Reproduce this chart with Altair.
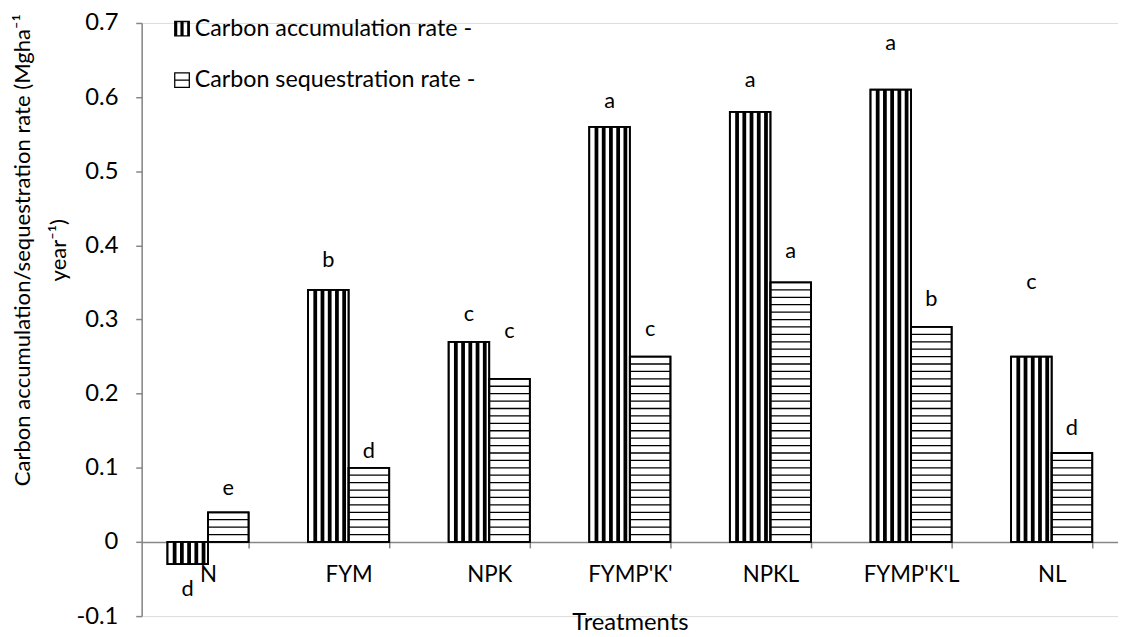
import altair as alt
import pandas as pd
import numpy as np

# ---------------- data ----------------
categories = ["N", "FYM", "NPK", "FYMP'K'", "NPKL", "FYMP'K'L", "NL"]
series_names = ["Carbon accumulation rate -", "Carbon sequestration rate -"]
accumulation = [-0.03, 0.34, 0.27, 0.56, 0.58, 0.61, 0.25]
sequestration = [0.04, 0.10, 0.22, 0.25, 0.35, 0.29, 0.12]
acc_letters = ["d", "b", "c", "a", "a", "a", "c"]
seq_letters = ["e", "d", "c", "c", "a", "b", "d"]
acc_letter_y = [-0.064, 0.380, 0.307, 0.594, 0.623, 0.673, 0.351]
seq_letter_y = [0.073, 0.122, 0.284, 0.287, 0.393, 0.327, 0.154]
y_ticks = [-0.1, 0.0, 0.1, 0.2, 0.3, 0.4, 0.5, 0.6, 0.7]

# ---------------- tables ----------------
rows = []
for i, c in enumerate(categories):
    rows.append({"cat": c, "series": series_names[0], "value": accumulation[i],
                 "letter": acc_letters[i], "ly": acc_letter_y[i]})
    rows.append({"cat": c, "series": series_names[1], "value": sequestration[i],
                 "letter": seq_letters[i], "ly": seq_letter_y[i]})
df = pd.DataFrame(rows)
df_acc = df[df.series == series_names[0]]

# horizontal hatch lines (every 0.01 inside the sequestration bars)
hatch = []
for c, v in zip(categories, sequestration):
    k = 1
    while k * 0.01 < v - 1e-6:
        hatch.append({"cat": c, "lvl": round(k * 0.01, 4)})
        k += 1
df_h = pd.DataFrame(hatch)

# ---------------- layout ----------------
W, H = 986, 599
FONT = "Lato"
FS = 22
GRAY = "#868686"
PI = 0.4225
PO = 0.183

xscale = alt.Scale(domain=categories, paddingInner=PI, paddingOuter=PO)
yscale = alt.Scale(domain=[-0.1, 0.7], nice=False)
xoff = alt.XOffset("series:N", scale=alt.Scale(domain=series_names, paddingInner=0, paddingOuter=0))

x_axis = alt.Axis(
    title="Treatments", labelAngle=0, tickBand="extent", offset=-(H * 0.1 / 0.8),
    domainColor=GRAY, tickColor=GRAY, domainWidth=1.5, tickWidth=1.5, tickSize=6,
    labelPadding=16, titlePadding=25, labelFont=FONT, labelFontSize=22.5,
    titleFont=FONT, titleFontSize=24, titleFontWeight="normal",
    labelColor="black", titleColor="black", grid=False,
)
y_axis = alt.Axis(
    title=["Carbon accumulation/sequestration rate (Mgha\u207b\u00b9", "year\u207b\u00b9)"],
    values=y_ticks, grid=False,
    labelExpr="datum.value == 0 ? '0' : replace(format(datum.value, '.1f'), '\u2212', '-')",
    domainColor=GRAY, tickColor=GRAY, domainWidth=1.5, tickWidth=1.5, tickSize=6,
    labelPadding=18, labelFont=FONT, labelFontSize=24, labelColor="black",
    titleFont=FONT, titleFontSize=22.3, titleFontWeight="normal", titleColor="black",
    titleAngle=-90, titleAlign="center", titleBaseline="top", titleLineHeight=36,
    titleX=-131, titleY=229,
)


def X(**kw):
    return alt.X("cat:N", scale=xscale, axis=x_axis, sort=categories, **kw)


def Y(field):
    return alt.Y(field, scale=yscale, axis=y_axis)


base = alt.Chart(df)

bars = base.mark_bar(fill="white", stroke="black", strokeWidth=1.8).encode(
    x=X(), xOffset=xoff, y=Y("value:Q"),
)

# vertical hatch lines in the accumulation bars
vlayers = []
for k in range(1, 6):
    vlayers.append(
        alt.Chart(df_acc).mark_rule(color="black", strokeWidth=3.8).encode(
            x=X(bandPosition=k * 0.089),
            y=Y("value:Q"),
            y2=alt.datum(0),
        )
    )

hlines = alt.Chart(df_h).mark_rule(color="black", strokeWidth=1.3).encode(
    x=X(bandPosition=0.5),
    x2=alt.X2("cat", bandPosition=1.0),
    y=Y("lvl:Q"),
)

outline = base.mark_bar(fill=None, stroke="black", strokeWidth=1.8).encode(
    x=X(), xOffset=xoff, y=Y("value:Q"),
)

letters = base.mark_text(font=FONT, fontSize=FS, color="black", baseline="middle", align="center").encode(
    x=X(), xOffset=xoff, y=Y("ly:Q"), text="letter:N",
)

acc_icon = ("M-1,-1H-0.6V1H-1Z M-0.2,-1H0.2V1H-0.2Z M0.65,-1H1V1H0.65Z "
            "M-1,-1H1V-0.82H-1Z M-1,0.82H1V1H-1Z")
seq_icon = ("M-1,-1H-0.84V1H-1Z M0.84,-1H1V1H0.84Z M-1,-1H1V-0.84H-1Z "
            "M-1,0.84H1V1H-1Z M-1,-0.08H1V0.08H-1Z")

legend_pts = base.mark_point(filled=True, color="black", size=0).encode(
    x=X(), xOffset=xoff, y=Y("value:Q"),
    shape=alt.Shape(
        "series:N",
        scale=alt.Scale(domain=series_names, range=[acc_icon, seq_icon]),
        legend=alt.Legend(
            title=None, orient="none", legendX=29, legendY=-6,
            symbolSize=256, symbolFillColor="black", symbolStrokeWidth=0,
            labelFont=FONT, labelFontSize=23.5, labelColor="black", labelLimit=0,
            labelOffset=1, rowPadding=27, symbolOpacity=1,
        ),
    ),
)

chart = alt.layer(bars, *vlayers, hlines, outline, letters, legend_pts).properties(
    width=W, height=H,
    padding={"left": 3, "top": 0, "right": 0, "bottom": 0},
).configure_view(stroke=None).configure(font=FONT)

chart.save("out.html", embed_options={"renderer": "svg", "actions": False})
